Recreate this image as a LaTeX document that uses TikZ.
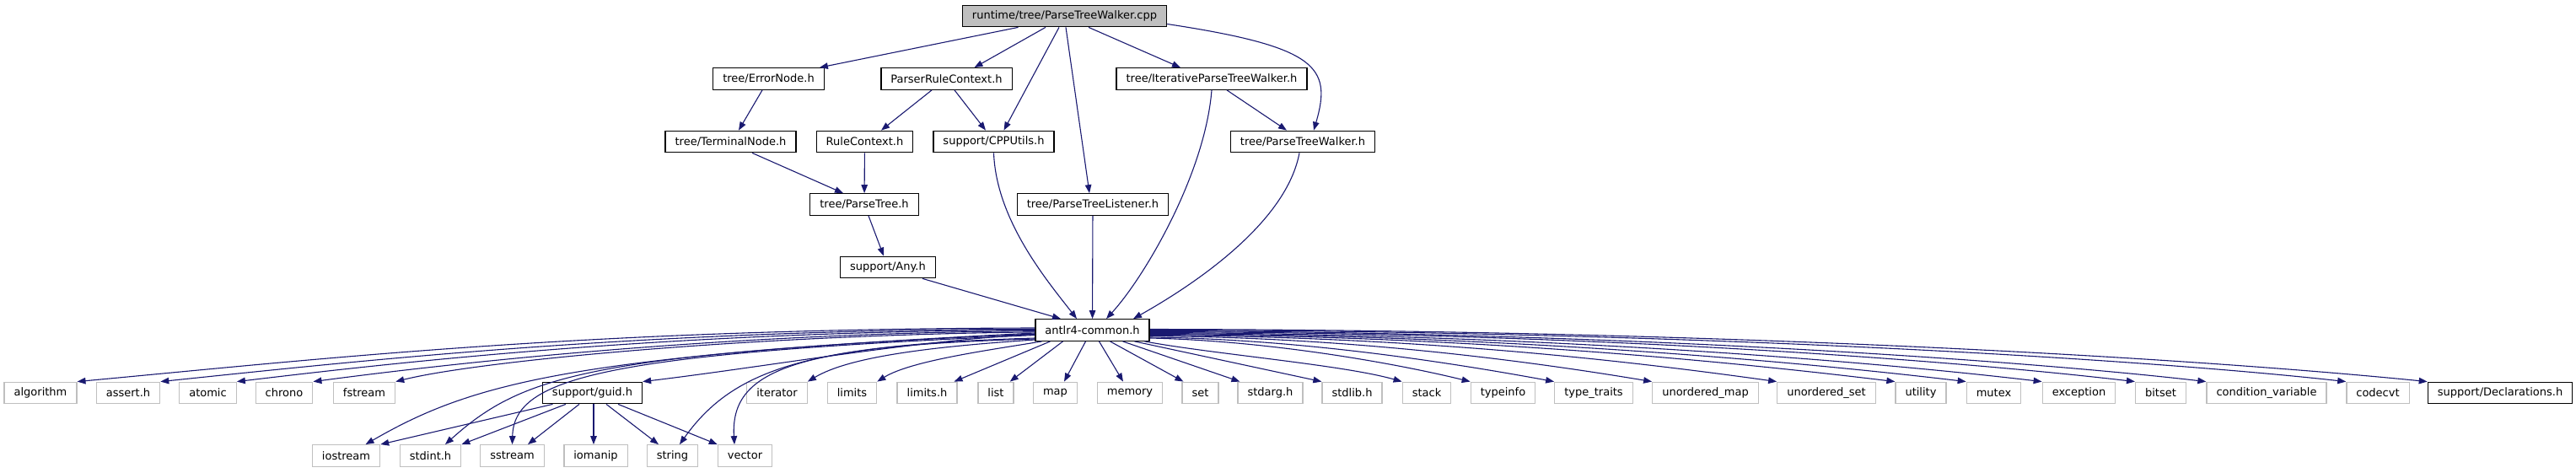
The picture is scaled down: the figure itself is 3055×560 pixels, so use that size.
\documentclass[tikz,border=0pt]{standalone}
\usepackage{fontspec}
\setmainfont{DejaVu Sans}
\usetikzlibrary{arrows.meta}
\definecolor{edgeblue}{HTML}{191970}
\definecolor{leafgray}{HTML}{BFBFBF}
\definecolor{rootfill}{HTML}{BFBFBF}
\begin{document}
\begin{tikzpicture}[x=1pt,y=1pt,
  box/.style={draw=black, line width=1.3pt, inner xsep=11.5pt, inner ysep=0pt,
    minimum height=25.5pt, font=\fontsize{13}{15}\selectfont, text=black, fill=white},
  leaf/.style={box, draw=leafgray},
  rootbox/.style={box, fill=rootfill},
  dep/.style={draw=edgeblue, line width=1.1pt, -{Triangle[length=10pt,width=7.5pt]}}]
\useasboundingbox (0,0) rectangle (3055,-560);
% rank 0
\node[rootbox] (root) at (1262.5,-19) {runtime/tree/ParseTreeWalker.cpp};
% rank 1
\node[box] (errnode) at (911.5,-93.5) {tree/ErrorNode.h};
\node[box] (prc) at (1122.5,-93.5) {ParserRuleContext.h};
\node[box] (iptw) at (1437,-93.5) {tree/IterativeParseTreeWalker.h};
% rank 2
\node[box] (termnode) at (866.5,-168) {tree/TerminalNode.h};
\node[box] (rulectx) at (1025.5,-168) {RuleContext.h};
\node[box] (cpputils) at (1178.5,-168) {support/CPPUtils.h};
\node[box] (ptw) at (1545,-168) {tree/ParseTreeWalker.h};
% rank 3
\node[box] (ptree) at (1025,-242.5) {tree/ParseTree.h};
\node[box] (ptl) at (1296,-242.5) {tree/ParseTreeListener.h};
% rank 4
\node[box] (anyh) at (1053,-317) {support/Any.h};
% rank 5
\node[box] (antlr) at (1295.5,-391.5) {antlr4-common.h};
% rank 6
\node[leaf] (algorithm) at (48,-466) {algorithm};
\node[leaf] (asserth) at (152,-466) {assert.h};
\node[leaf] (atomic) at (246.5,-466) {atomic};
\node[leaf] (chrono) at (337,-466) {chrono};
\node[leaf] (fstream) at (432,-466) {fstream};
\node[box] (guid) at (702.5,-466) {support/guid.h};
\node[leaf] (iterator) at (921.5,-466) {iterator};
\node[leaf] (limits) at (1010.5,-466) {limits};
\node[leaf] (limitsh) at (1099.5,-466) {limits.h};
\node[leaf] (list) at (1181,-466) {list};
\node[leaf] (map) at (1251.5,-466) {map};
\node[leaf] (memory) at (1340,-466) {memory};
\node[leaf] (set) at (1423.5,-466) {set};
\node[leaf] (stdarg) at (1506.5,-466) {stdarg.h};
\node[leaf] (stdlib) at (1603.5,-466) {stdlib.h};
\node[leaf] (stack) at (1692,-466) {stack};
\node[leaf] (typeinfo) at (1782.5,-466) {typeinfo};
\node[leaf] (typetraits) at (1890,-466) {type\_traits};
\node[leaf] (umap) at (2022.5,-466) {unordered\_map};
\node[leaf] (uset) at (2166,-466) {unordered\_set};
\node[leaf] (utility) at (2278,-466) {utility};
\node[leaf] (mutex) at (2364.5,-466) {mutex};
\node[leaf] (exception) at (2465.5,-466) {exception};
\node[leaf] (bitset) at (2562.5,-466) {bitset};
\node[leaf] (condvar) at (2688,-466) {condition\_variable};
\node[leaf] (codecvt) at (2820,-466) {codecvt};
\node[box] (decl) at (2965,-466) {support/Declarations.h};
% rank 7
\node[leaf] (iostream) at (410.5,-540.5) {iostream};
\node[leaf] (stdint) at (510.5,-540.5) {stdint.h};
\node[leaf] (sstream) at (607.5,-540.5) {sstream};
\node[leaf] (iomanip) at (706.5,-540.5) {iomanip};
\node[leaf] (string) at (797.5,-540.5) {string};
\node[leaf] (vector) at (883.5,-540.5) {vector};

% root edges
\draw[dep] ([xshift=-55pt]root.south) -- ([xshift=-6pt]errnode.north east);
\draw[dep] ([xshift=-22.5pt]root.south) -- ([xshift=33pt]prc.north);
\draw[dep] ([xshift=-6.5pt]root.south) -- ([xshift=12pt]cpputils.north);
\draw[dep] ([xshift=1.5pt]root.south) -- ([xshift=-4pt]ptl.north);
\draw[dep] ([xshift=28.5pt]root.south) -- ([xshift=-37pt]iptw.north);
\draw[dep] ([yshift=-9.5pt]root.east) .. controls +(178,-27) and +(22,75) .. ([xshift=13pt]ptw.north);
% upper edges
\draw[dep] ([xshift=-17.5pt]prc.south) -- ([xshift=19.5pt]rulectx.north);
\draw[dep] ([xshift=9.5pt]prc.south) -- ([xshift=-9.5pt]cpputils.north);
\draw[dep] ([xshift=-7.5pt]errnode.south) -- ([xshift=9.5pt]termnode.north);
\draw[dep] ([xshift=25.5pt]termnode.south) -- ([xshift=-25pt]ptree.north);
\draw[dep] (rulectx) -- (ptree);
\draw[dep] ([xshift=18pt]iptw.south) -- ([xshift=-19pt]ptw.north);
\draw[dep] (iptw.south) .. controls +(-8,-100) and +(45,49) .. ([xshift=16.5pt]antlr.north);
\draw[dep] ([xshift=-4pt]ptw.south) .. controls +(-15,-80) and +(80,45) .. ([xshift=48.5pt]antlr.north);
\draw[dep] (cpputils.south) .. controls +(3,-80) and +(-35,45) .. ([xshift=-18.5pt]antlr.north);
\draw[dep] (ptl) -- (antlr);
\draw[dep] ([xshift=5pt]ptree.south) -- ([xshift=-5pt]anyh.north);
\draw[dep] ([xshift=41pt]anyh.south) -- ([xshift=-37.5pt]antlr.north);
% antlr to left leaves
\draw[dep] ([yshift=2.5pt]antlr.west) .. controls +(-528,-1) and +(300,28) .. (algorithm.north east);
\draw[dep] ([yshift=1.2pt]antlr.west) .. controls +(-468,-1) and +(250,26) .. (asserth.north east);
\draw[dep] (antlr.west) .. controls +(-428,-1.5) and +(200,24) .. (atomic.north east);
\draw[dep] ([yshift=-1.2pt]antlr.west) .. controls +(-378,-2) and +(150,20) .. (chrono.north east);
\draw[dep] ([yshift=-2.4pt]antlr.west) .. controls +(-328,-3) and +(100,25) .. (fstream.north east);
\draw[dep] ([yshift=-5pt]antlr.west) .. controls +(-150,-8) and +(150,18) .. (guid.north east);
\draw[dep] ([yshift=-3.5pt]antlr.west) .. controls +(-548,-27) and +(127,73.5) .. ([xshift=23pt]iostream.north);
\draw[dep] ([yshift=-4.5pt]antlr.west) .. controls +(-528,-24) and +(92,82.5) .. ([xshift=17.5pt]stdint.north);
\draw[dep] ([yshift=-6pt]antlr.west) .. controls +(-508,-22) and +(2,80) .. (sstream.north);
\draw[dep] ([yshift=-9.5pt]antlr.west) .. controls +(-268,-8) and +(64,90) .. ([xshift=8.5pt]string.north);
\draw[dep] ([yshift=-10.5pt]antlr.west) .. controls +(-288,-8) and +(-5,87) .. ([xshift=-12.5pt]vector.north);
\draw[dep] ([yshift=-11.5pt]antlr.west) .. controls +(-120,-8) and +(50,30) .. (iterator.north east);
% antlr to middle leaves
\draw[dep] ([xshift=-60pt]antlr.south) .. controls +(-60,-10) and +(40,25) .. (limits.north east);
\draw[dep] ([xshift=-50pt]antlr.south) -- ([xshift=-4pt]limitsh.north east);
\draw[dep] ([xshift=-35pt]antlr.south) -- ([xshift=-5pt]list.north east);
\draw[dep] ([xshift=-8pt]antlr.south) -- ([xshift=10.5pt]map.north);
\draw[dep] ([xshift=8pt]antlr.south) -- ([xshift=-8pt]memory.north);
\draw[dep] ([xshift=21pt]antlr.south) -- ([xshift=2pt]set.north west);
\draw[dep] ([xshift=36pt]antlr.south) -- ([xshift=3pt]stdarg.north west);
\draw[dep] ([xshift=50pt]antlr.south) -- (stdlib.north west);
\draw[dep] ([xshift=62pt]antlr.south) .. controls +(80,-15) and +(-70,20) .. (stack.north west);
% antlr to right leaves
\draw[dep] ([yshift=-9.5pt]antlr.east) .. controls +(137,-3) and +(-94,23) .. (typeinfo.north west);
\draw[dep] ([yshift=-8.5pt]antlr.east) .. controls +(177,-2) and +(-125,23) .. (typetraits.north west);
\draw[dep] ([yshift=-7pt]antlr.east) .. controls +(237,-1.5) and +(-150,25) .. (umap.north west);
\draw[dep] ([yshift=-6pt]antlr.east) .. controls +(317,-1.5) and +(-179,25) .. (uset.north west);
\draw[dep] ([yshift=-5pt]antlr.east) .. controls +(377,-1.5) and +(-198,24) .. (utility.north west);
\draw[dep] ([yshift=-4pt]antlr.east) .. controls +(417,-1.5) and +(-202,24) .. (mutex.north west);
\draw[dep] ([yshift=-3pt]antlr.east) .. controls +(457,-1.5) and +(-212,25) .. (exception.north west);
\draw[dep] ([yshift=-2pt]antlr.east) .. controls +(517,-1) and +(-223,26) .. (bitset.north west);
\draw[dep] ([yshift=-1pt]antlr.east) .. controls +(557,-1) and +(-216,25) .. (condvar.north west);
\draw[dep] (antlr.east) .. controls +(637,-1) and +(-243,27) .. (codecvt.north west);
\draw[dep] ([yshift=1pt]antlr.east) .. controls +(687,-1) and +(-280,28) .. (decl.north west);
% guid to bottom row
\draw[dep] ([xshift=-47pt]guid.south) -- (iostream.north east);
\draw[dep] ([xshift=-31.5pt]guid.south) -- (stdint.north east);
\draw[dep] ([xshift=-15.5pt]guid.south) -- ([xshift=18.5pt]sstream.north);
\draw[dep] ([xshift=1.5pt]guid.south) -- ([xshift=-2.5pt]iomanip.north);
\draw[dep] ([xshift=16.5pt]guid.south) -- ([xshift=-16.5pt]string.north);
\draw[dep] ([xshift=30.5pt]guid.south) -- (vector.north west);
\end{tikzpicture}
\end{document}
